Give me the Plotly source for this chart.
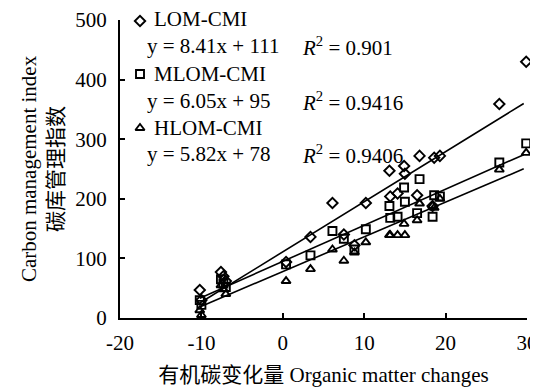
import numpy as np
import plotly.graph_objects as go

# ---- data ----
om_change = [-10.2, -10.0, -7.6, -7.3, -7.0, 0.4, 3.4, 6.1, 7.5, 8.8, 10.2, 13.1, 13.2,
             14.1, 14.9, 15.0, 16.5, 16.8, 18.4, 18.6, 19.3, 26.6, 29.9]
lom_cmi = [47, 30, 77, 70, 62, 94, 136, 193, 140, 122, 193, 247, 204,
           209, 255, 242, 206, 272, 188, 269, 272, 359, 430]
mlom_cmi = [30, 22, 65, 58, 52, 90, 105, 146, 133, 115, 149, 188, 168,
            170, 219, 195, 176, 233, 170, 206, 204, 261, 293]
hlom_cmi = [13, 5, 55, 48, 40, 62, 82, 115, 96, 110, 127, 139, 139,
            139, 158, 139, 164, 192, 188, 185, 200, 249, 277]

series_names = ["LOM-CMI", "MLOM-CMI", "HLOM-CMI"]
slopes = [8.41, 6.05, 5.82]
intercepts = [111, 95, 78]
r2_values = ["0.901", "0.9416", "0.9406"]
eq_texts = ["y = 8.41x + 111", "y = 6.05x + 95", "y = 5.82x + 78"]

x_ticks = [-20, -10, 0, 10, 20, 30]
y_ticks = [0, 100, 200, 300, 400, 500]

FONT = "Liberation Serif, Times New Roman, Noto Sans CJK SC, serif"
FS = 21
symbols = ["diamond-open", "square-open", "triangle-up-open"]
series_values = [lom_cmi, mlom_cmi, hlom_cmi]

# layout geometry (pixels in the 538x387 window; page body has an 8px margin)
OFF = 8
W, H = 538 - OFF, 387 - OFF
W0, W1, H0, H1 = 120, 527, 20, 318   # plot area in window pixels
def px_x(p):
    return (p - W0) / (W1 - W0)
def px_y(p):
    return (H1 - p) / (H1 - H0)

name_rows = [19, 74, 128]
key_rows = [21, 74, 128]
eq_rows = [46, 101, 154]
key_x, name_x, eq_x, r2_x = 140, 152, 145, 300

fig = go.Figure()

# regression lines
x_fit = np.array([min(om_change), max(om_change) - 0.3])
for name, a, b in zip(series_names, slopes, intercepts):
    fig.add_trace(go.Scatter(
        x=x_fit, y=a * x_fit + b, mode="lines",
        line=dict(color="black", width=1.6),
        showlegend=False, hoverinfo="skip"))

# scatter points
for name, vals, sym in zip(series_names, series_values, symbols):
    fig.add_trace(go.Scatter(
        x=om_change, y=vals, mode="markers", name=name,
        cliponaxis=False, showlegend=False,
        marker=dict(symbol=sym, size=8, color="black",
                    line=dict(color="black", width=1.9)),
    ))

# legend keys on an overlay axis spanning the plot area in paper units
fig.add_trace(go.Scatter(
    x=[px_x(key_x)] * 3, y=[px_y(r) for r in key_rows],
    xaxis="x2", yaxis="y2", mode="markers", showlegend=False, hoverinfo="skip",
    cliponaxis=False,
    marker=dict(symbol=symbols, size=8, color="black",
                line=dict(color="black", width=1.9)),
))

# legend names and equation annotations
for name, eq, r2, nrow, erow in zip(series_names, eq_texts, r2_values, name_rows, eq_rows):
    fig.add_annotation(x=px_x(name_x), y=px_y(nrow), xref="paper", yref="paper",
                       text=name, showarrow=False, xanchor="left", yanchor="middle",
                       font=dict(family=FONT, size=FS, color="black"))
    fig.add_annotation(x=px_x(eq_x), y=px_y(erow), xref="paper", yref="paper",
                       text=eq, showarrow=False, xanchor="left", yanchor="middle",
                       font=dict(family=FONT, size=FS, color="black"))
    fig.add_annotation(x=px_x(r2_x), y=px_y(erow), xref="paper", yref="paper",
                       text="<i>R</i><sup>2</sup> = " + r2, showarrow=False,
                       xanchor="left", yanchor="middle",
                       font=dict(family=FONT, size=FS, color="black"))

axis_style = dict(
    showgrid=False, zeroline=False, showline=True, linecolor="black", linewidth=2,
    ticks="inside", ticklen=5, tickwidth=1.5, tickcolor="black", automargin=False,
)

fig.update_layout(
    template="none",
    width=W, height=H,
    margin=dict(l=W0 - OFF, r=(W + OFF) - W1, t=H0 - OFF, b=(H + OFF) - H1),
    paper_bgcolor="white", plot_bgcolor="white",
    font=dict(family=FONT, size=FS, color="black"),
    showlegend=False,
    xaxis=dict(
        range=[-20, 30], tickvals=x_ticks, ticktext=[str(v) for v in x_ticks],
        ticklabelstandoff=5,
        title=dict(text="有机碳变化量 Organic matter changes", standoff=14,
                   font=dict(family=FONT, size=FS)),
        **axis_style),
    yaxis=dict(
        range=[0, 500], tickvals=y_ticks, ticktext=[str(v) for v in y_ticks],
        ticklabelstandoff=7,
        title=dict(text="Carbon management index<br>碳库管理指数", standoff=6,
                   font=dict(family=FONT, size=FS)),
        **axis_style),
    xaxis2=dict(overlaying="x", range=[0, 1], visible=False, fixedrange=True),
    yaxis2=dict(overlaying="y", range=[0, 1], visible=False, fixedrange=True),
)

fig.write_html("out.html")
